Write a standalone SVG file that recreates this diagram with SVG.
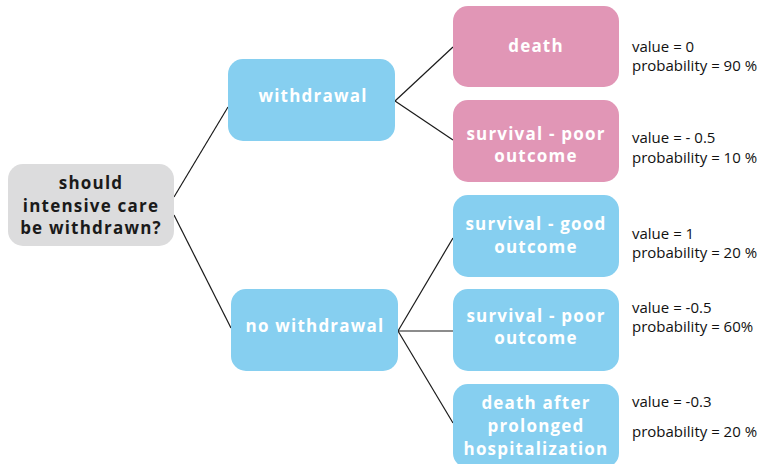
<svg xmlns="http://www.w3.org/2000/svg" width="770" height="464" viewBox="0 0 770 464">
<style>
.box{stroke:none}
.gray{fill:#dcdcdd}
.blue{fill:#86cff0}
.pink{fill:#e196b6}
.lbl{font-family:"Open Sans","Liberation Sans",sans-serif;font-weight:bold;font-size:17px;letter-spacing:1.2px;text-anchor:middle;fill:#ffffff}
.dark{fill:#1a1a1a}
.val{font-family:"Open Sans","Liberation Sans",sans-serif;font-size:15px;fill:#111111}
.con{stroke:#1a1a1a;stroke-width:1.2;fill:none}
</style>
<rect width="770" height="464" fill="#ffffff"/>
<g id="connectors">
<line class="con" x1="174" y1="197" x2="228" y2="107"/>
<line class="con" x1="174" y1="215" x2="231" y2="328"/>
<line class="con" x1="395" y1="101" x2="453" y2="47"/>
<line class="con" x1="395" y1="101" x2="453" y2="140"/>
<line class="con" x1="398" y1="331" x2="453" y2="238"/>
<line class="con" x1="398" y1="331" x2="453" y2="331"/>
<line class="con" x1="398" y1="331" x2="453" y2="423"/>
</g>
<g id="root">
<rect class="box gray" x="8" y="164" width="166" height="82" rx="15"/>
<text class="lbl dark" x="91" y="189">should</text>
<text class="lbl dark" x="91" y="212">intensive care</text>
<text class="lbl dark" x="91" y="234">be withdrawn?</text>
</g>
<g id="withdrawal">
<rect class="box blue" x="228" y="59" width="167" height="82" rx="15"/>
<text class="lbl" x="313" y="102">withdrawal</text>
</g>
<g id="no-withdrawal">
<rect class="box blue" x="231" y="289" width="167" height="82" rx="15"/>
<text class="lbl" x="315" y="332">no withdrawal</text>
</g>
<g id="death">
<rect class="box pink" x="453" y="6" width="166" height="81" rx="15"/>
<text class="lbl" x="536" y="52">death</text>
</g>
<g id="survival-poor-1">
<rect class="box pink" x="453" y="100" width="166" height="82" rx="15"/>
<text class="lbl" x="536" y="140">survival - poor</text>
<text class="lbl" x="536" y="162">outcome</text>
</g>
<g id="survival-good">
<rect class="box blue" x="453" y="195" width="166" height="82" rx="15"/>
<text class="lbl" x="536" y="230">survival - good</text>
<text class="lbl" x="536" y="253">outcome</text>
</g>
<g id="survival-poor-2">
<rect class="box blue" x="453" y="289" width="166" height="82" rx="15"/>
<text class="lbl" x="536" y="322">survival - poor</text>
<text class="lbl" x="536" y="344">outcome</text>
</g>
<g id="death-prolonged">
<rect class="box blue" x="453" y="384" width="166" height="84" rx="15"/>
<text class="lbl" x="536" y="409">death after</text>
<text class="lbl" x="536" y="432">prolonged</text>
<text class="lbl" x="536" y="455">hospitalization</text>
</g>
<g id="values">
<text class="val" x="632" y="52">value = 0</text>
<text class="val" x="632" y="71">probability = 90 %</text>
<text class="val" x="632" y="143">value = - 0.5</text>
<text class="val" x="632" y="163">probability = 10 %</text>
<text class="val" x="632" y="239">value = 1</text>
<text class="val" x="632" y="258">probability = 20 %</text>
<text class="val" x="632" y="313">value = -0.5</text>
<text class="val" x="632" y="332">probability = 60%</text>
<text class="val" x="632" y="407">value = -0.3</text>
<text class="val" x="632" y="437">probability = 20 %</text>
</g>
</svg>
